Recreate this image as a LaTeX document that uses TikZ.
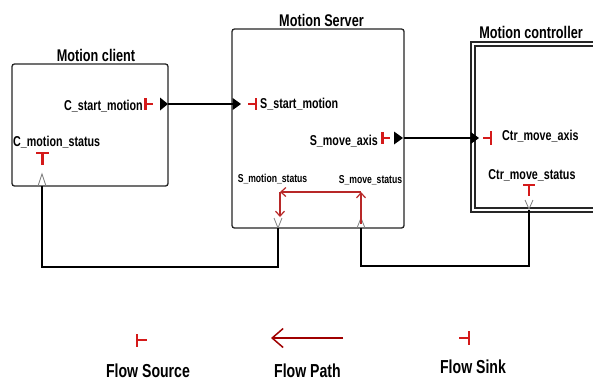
\documentclass[tikz,border=0pt]{standalone}
\usepackage{fontspec}
\setmainfont{Liberation Sans}[FakeStretch=0.75]
\usetikzlibrary{arrows.meta}
\definecolor{glyphred}{HTML}{D41A1A}
\definecolor{pathred}{HTML}{B82828}
\definecolor{pathdark}{HTML}{A00000}
\begin{document}
\begin{tikzpicture}[x=1pt,y=-1pt,
  comp/.style={draw=black!85, line width=1.3pt, rounded corners=2.5pt, outer sep=0pt, inner sep=0pt},
  ctrbox/.style={draw=black!85, line width=1.6pt, double=white, double distance=2.4pt, outer sep=0pt, inner sep=0pt},
  ttl/.style={font=\fontsize{16.9}{17}\selectfont\bfseries, inner sep=0pt, anchor=base},
  lbl/.style={font=\fontsize{14.3}{15}\selectfont\bfseries, inner sep=0pt},
  slbl/.style={font=\fontsize{11.5}{12}\selectfont\bfseries, inner sep=0pt, anchor=base},
  lgd/.style={font=\fontsize{18.8}{19}\selectfont\bfseries, inner sep=0pt, anchor=base},
  glyph/.style={draw=glyphred, line width=2.8pt},
  conn/.style={draw=black, line width=1.1pt},
  fpath/.style={draw=pathred, line width=1.4pt, -{Straight Barb[length=5pt,width=9pt,line width=1.2pt]}},
  opentri/.style={draw=black!50, line width=0.8pt},
  solidtri/.style={fill=black}
]
\clip (0,0) rectangle (593,381);
\fill[white] (0,0) rectangle (593,381);

% ---------- components ----------
\node[comp, anchor=north west, minimum width=156pt, minimum height=122pt] (client) at (12,64) {};
\node[comp, anchor=north west, minimum width=172pt, minimum height=199pt] (server) at (232,29) {};
\node[ctrbox, anchor=north west, minimum width=140pt, minimum height=166pt] (ctrl) at (472.9,44) {};

\node[ttl] (tclient) at (96,61.7) {Motion client};
\node[ttl] (tserver) at (321.5,26) {Motion Server};
\node[ttl] (tctrl) at (531,38) {Motion controller};

% ---------- client ports ----------
\node[lbl, anchor=base east] (lcsm) at (143,110) {C\_start\_motion};
\draw[glyph] (145.5,98) -- (145.5,110) (145.5,104) -- (153,104);
\fill[solidtri] (160,97.5) -- (168,104) -- (160,110.5) -- cycle;
\coordinate (csm) at (168,104);

\node[lbl, anchor=base west] (lcms) at (13,146) {C\_motion\_status};
\draw[glyph] (36,153) -- (49,153) (42.5,153) -- (42.5,165);
\draw[opentri] (38,186) -- (42,174) -- (46,186);
\coordinate (cms) at (42,186);

% ---------- server ports ----------
\coordinate (ssm) at (241,104);
\draw[glyph] (248,104) -- (256,104) (256,98) -- (256,110);
\node[lbl, anchor=base west] (lssm) at (260,108.5) {S\_start\_motion};

\node[lbl, anchor=base east] (lsma) at (378,145) {S\_move\_axis};
\draw[glyph] (382.5,132) -- (382.5,144) (382.5,138) -- (390,138);
\fill[solidtri] (394,131.5) -- (403,138) -- (394,144.5) -- cycle;
\coordinate (sma) at (404,138);

\node[slbl] (lsms) at (272.5,182) {S\_motion\_status};
\node[slbl] (lsmvs) at (370.5,183) {S\_move\_status};
\draw[opentri] (274,218) -- (278,228) -- (282,218);
\draw[opentri] (357,228) -- (361,218) -- (365,228);
\coordinate (sms) at (278,228);
\coordinate (smvs) at (361,228);

% internal flow path
\coordinate (fp0) at (361,224);
\coordinate (fp1) at (361,192);
\coordinate (fp2) at (280,192);
\coordinate (fp3) at (280,217);
\draw[fpath] (fp0) -- (fp1);
\draw[fpath] (fp1) -- (fp2);
\draw[fpath] (fp2) -- (fp3);

% ---------- controller ports ----------
\coordinate (cma) at (479,138);
\draw[glyph] (483,138) -- (491,138) (491,131) -- (491,145);
\node[lbl, anchor=base west] (lcma) at (502,140) {Ctr\_move\_axis};

\node[lbl, anchor=base] (lcmvs) at (532,179) {Ctr\_move\_status};
\draw[glyph] (523,185) -- (535,185) (529,185) -- (529,196);
\draw[opentri] (525,200) -- (529,209) -- (533,200);
\coordinate (cmvs) at (529,210);

% ---------- connectors ----------
\draw[conn, -{Triangle[length=8.5pt,width=12pt]}] (csm) -- (ssm);
\draw[conn, -{Triangle[length=8.5pt,width=12pt]}] (sma) -- (cma);
\draw[conn] (cms) |- (278,267) -- (sms);
\draw[conn] (smvs) |- (529,266) -- (cmvs);

% ---------- legend ----------
\draw[glyph] (137,334) -- (137,347) (137,340) -- (147,340);
\node[lgd] (lsrc) at (148,377) {Flow Source};

\coordinate (lp0) at (343,338);
\coordinate (lp1) at (271,338);
\draw[draw=pathdark, line width=1.6pt, -{Straight Barb[length=11pt,width=19pt,line width=1.5pt]}] (lp0) -- (lp1);
\node[lgd] (lpath) at (307.5,377) {Flow Path};

\draw[glyph] (459,338) -- (469,338) (469,331) -- (469,345);
\node[lgd] (lsink) at (473,373) {Flow Sink};
\end{tikzpicture}
\end{document}
